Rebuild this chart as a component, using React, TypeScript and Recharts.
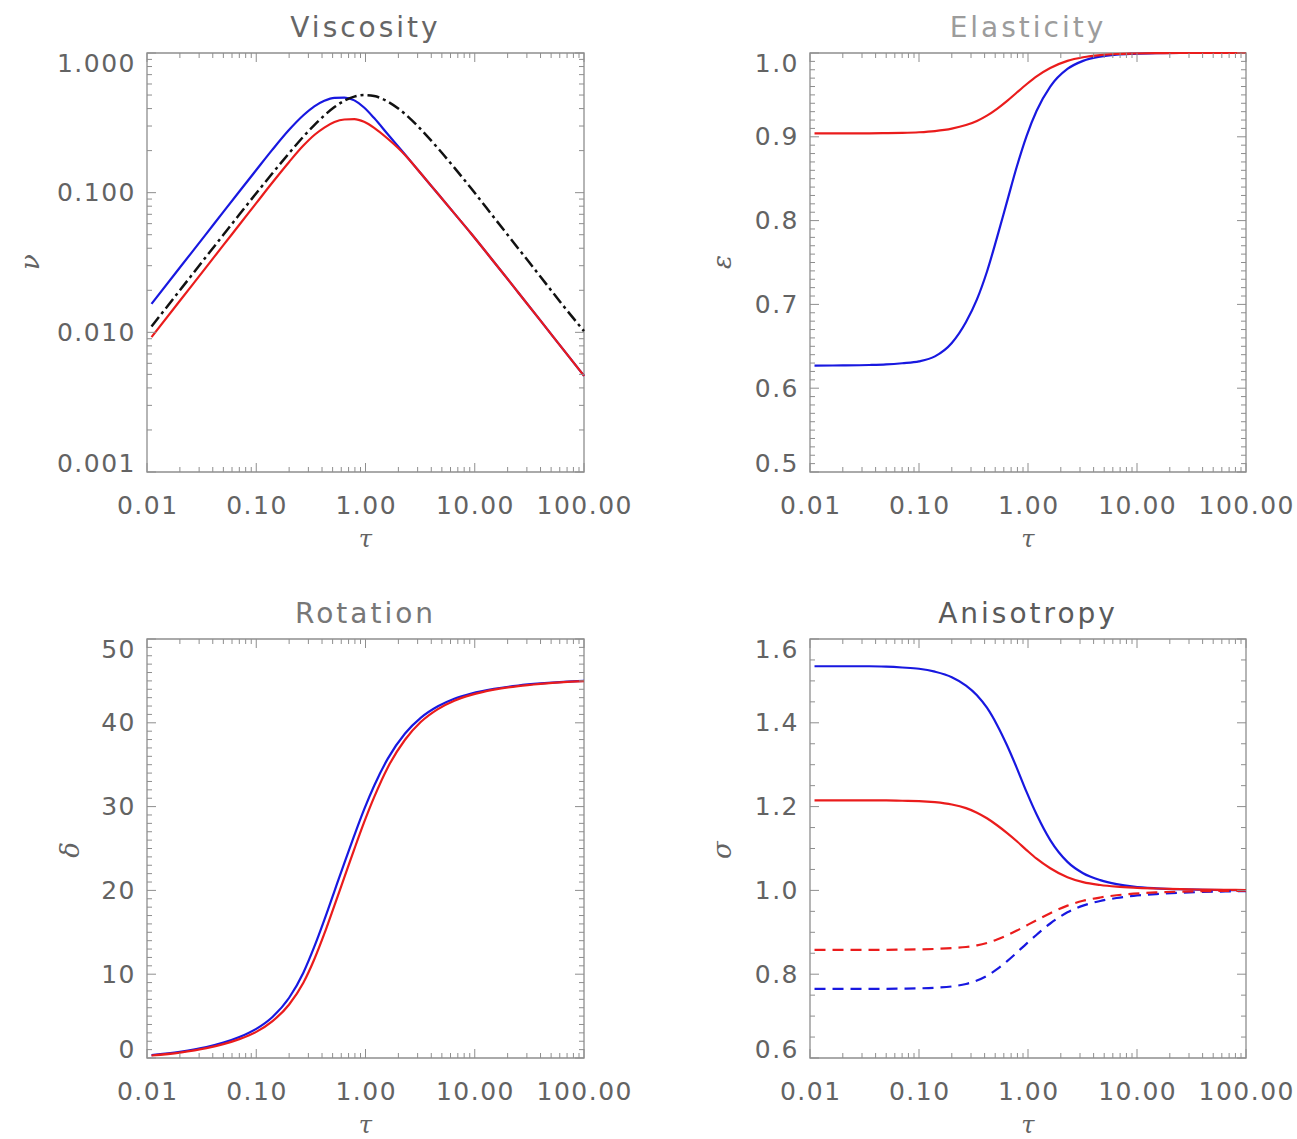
import { LineChart, Line, XAxis, YAxis, ReferenceArea } from 'recharts';

const PAGE_W = 1297;
const PAGE_H = 1139;

// shared tau grid, every curve is sampled on it
const TAU = [
  0.011, 0.02, 0.035, 0.05, 0.07, 0.1, 0.14, 0.2, 0.27, 0.34, 0.42, 0.52, 0.64, 0.79,
  0.97, 1.2, 1.6, 2.3, 3.2, 4.6, 6.5, 9.3, 15, 25, 40, 65, 100,
];

const X_TICKS = [0.01, 0.1, 1, 10, 100];
const X_LABELS = ['0.01', '0.10', '1.00', '10.00', '100.00'];

// Viscosity (log-log)
const VISC_BLUE = [
  0.016, 0.0291, 0.0509, 0.0728, 0.1019, 0.1452, 0.2023, 0.2818, 0.3581, 0.415, 0.455,
  0.4775, 0.479, 0.458, 0.407, 0.342, 0.2618, 0.1875, 0.1377, 0.0982, 0.0711, 0.0508,
  0.0319, 0.0193, 0.01213, 0.00748, 0.00488,
];
const VISC_RED = [
  0.00925, 0.01683, 0.02944, 0.04207, 0.05888, 0.08414, 0.1178, 0.166, 0.2173, 0.2588,
  0.2924, 0.3206, 0.3342, 0.3365, 0.3214, 0.2911, 0.2432, 0.1862, 0.1377, 0.0982, 0.0711,
  0.0508, 0.0319, 0.0193, 0.01213, 0.00748, 0.00488,
];
const VISC_BLACK = [
  0.011, 0.02, 0.035, 0.0499, 0.0697, 0.099, 0.137, 0.192, 0.252, 0.305, 0.357, 0.41, 0.455,
  0.487, 0.5, 0.492, 0.449, 0.366, 0.285, 0.208, 0.151, 0.107, 0.0664, 0.0399, 0.025, 0.0154,
  0.0102,
];
const VISC_Y_TICKS = [0.001, 0.01, 0.1, 1];
const VISC_Y_LABELS = ['0.001', '0.010', '0.100', '1.000'];

// Elasticity
const EL_BLUE = [
  0.627, 0.6272, 0.6277, 0.6284, 0.6298, 0.632, 0.638, 0.654, 0.679, 0.706, 0.739, 0.78,
  0.822, 0.8645, 0.9009, 0.931, 0.96, 0.981, 0.9906, 0.9957, 0.998, 0.999, 0.9997, 1.0, 1.0,
  1.0, 1.0,
];
const EL_RED = [
  0.904, 0.904, 0.9042, 0.9044, 0.9047, 0.9054, 0.9068, 0.9097, 0.914, 0.919, 0.9253, 0.9334,
  0.9426, 0.9529, 0.9627, 0.9721, 0.9821, 0.9906, 0.9949, 0.9975, 0.9988, 0.9994, 0.9998,
  1.0, 1.0, 1.0, 1.0,
];
const EL_Y_TICKS = [0.5, 0.6, 0.7, 0.8, 0.9, 1.0];
const EL_Y_LABELS = ['0.5', '0.6', '0.7', '0.8', '0.9', '1.0'];

// Rotation
const ROT_BLUE = [
  0.35, 0.74, 1.3, 1.83, 2.5, 3.48, 4.87, 7.19, 10.18, 13.28, 16.48, 19.92, 23.25, 26.56,
  29.63, 32.48, 35.73, 38.73, 40.59, 41.97, 42.87, 43.49, 44.05, 44.45, 44.7, 44.89, 45.0,
];
const ROT_RED = [
  0.3, 0.65, 1.17, 1.65, 2.25, 3.12, 4.37, 6.39, 8.98, 11.78, 14.83, 18.22, 21.55, 24.93,
  28.11, 31.13, 34.68, 37.98, 40.09, 41.64, 42.64, 43.33, 43.95, 44.38, 44.65, 44.86, 44.98,
];
const ROT_Y_TICKS = [0, 10, 20, 30, 40, 50];
const ROT_Y_LABELS = ['0', '10', '20', '30', '40', '50'];

// Anisotropy (solid and dashed pairs)
const ANI_BLUE = [
  1.535, 1.535, 1.535, 1.534, 1.532, 1.529, 1.522, 1.509, 1.489, 1.466, 1.436, 1.395, 1.347,
  1.292, 1.235, 1.181, 1.12, 1.068, 1.041, 1.0245, 1.015, 1.009, 1.005, 1.0027, 1.0015,
  1.0008, 1.0005,
];
const ANI_RED = [
  1.215, 1.215, 1.215, 1.2148, 1.214, 1.2132, 1.2105, 1.205, 1.1963, 1.1855, 1.1721, 1.1555,
  1.1373, 1.1172, 1.0963, 1.0757, 1.0529, 1.0313, 1.0196, 1.0129, 1.0091, 1.0066, 1.0045,
  1.0029, 1.0019, 1.0013, 1.0009,
];
const ANI_BLUE_DASH = [
  0.765, 0.765, 0.765, 0.7652, 0.7656, 0.7662, 0.7676, 0.7707, 0.7767, 0.7849, 0.7961, 0.8119,
  0.8305, 0.8515, 0.8731, 0.8942, 0.921, 0.9477, 0.9637, 0.9748, 0.9818, 0.9869, 0.9912,
  0.9943, 0.9962, 0.9974, 0.9983,
];
const ANI_RED_DASH = [
  0.858, 0.858, 0.858, 0.8582, 0.8587, 0.8593, 0.8603, 0.8622, 0.8649, 0.8688, 0.8745, 0.8827,
  0.8927, 0.9042, 0.9164, 0.929, 0.9457, 0.9637, 0.9752, 0.9831, 0.9884, 0.9921, 0.9951,
  0.9971, 0.9981, 0.9988, 0.9992,
];
const ANI_Y_TICKS = [0.6, 0.8, 1.0, 1.2, 1.4, 1.6];
const ANI_Y_LABELS = ['0.6', '0.8', '1.0', '1.2', '1.4', '1.6'];

const AXIS = '#8e8e8e';
const TEXT = '#636363';
const BLUE = '#1818e0';
const RED = '#ea1c1c';
const BLACK = '#111111';
const NUM_FONT = '"DejaVu Sans", sans-serif';
const GREEK_FONT = '"DejaVu Serif", serif';
const LABEL_SIZE = 25;
const LABEL_SPACING = 1.5;

type Box = { left: number; top: number; right: number; bottom: number };
type Series = { key: string; values: number[]; color: string; dash?: string; width?: number };

function logMinors(lo: number, hi: number) {
  const out: number[] = [];
  for (let d = lo; d < hi * 0.999; d *= 10) {
    for (let m = 2; m <= 9; m++) out.push(Number((d * m).toPrecision(6)));
  }
  return out;
}

function linMinors(lo: number, hi: number, step: number) {
  const n = Math.round((hi - lo) / step);
  const out: number[] = [];
  for (let i = 0; i <= n; i++) out.push(Number((lo + i * step).toFixed(6)));
  return out;
}

function majorIndex(v: number, majors: number[]) {
  return majors.findIndex((m) => Math.abs(v - m) <= Math.abs(m) * 1e-6 + 1e-9);
}

const X_ALL = [...X_TICKS, ...logMinors(0.01, 100)].sort((a, b) => a - b);

function Panel({
  box,
  yScale,
  yTicks,
  yLabels,
  yMinor,
  series,
}: {
  box: Box;
  yScale: 'log' | 'linear';
  yTicks: number[];
  yLabels: string[];
  yMinor: number[];
  series: Series[];
}) {
  const data = TAU.map((t, i) => {
    const row: Record<string, number> = { t };
    series.forEach((s) => {
      row[s.key] = s.values[i];
    });
    return row;
  });
  const yDomain: [number, number] = [yTicks[0], yTicks[yTicks.length - 1]];
  const yAll = Array.from(new Set([...yTicks, ...yMinor])).sort((a, b) => a - b);

  const xTick = (p: any) => {
    const v = p.payload.value;
    const idx = majorIndex(v, X_TICKS);
    const len = idx >= 0 ? 9 : 5;
    return (
      <g key={`xt-${v}`}>
        <line x1={p.x} x2={p.x} y1={box.bottom} y2={box.bottom - len} stroke={AXIS} />
        <line x1={p.x} x2={p.x} y1={box.top} y2={box.top + len} stroke={AXIS} />
        {idx >= 0 && (
          <text
            x={p.x + LABEL_SPACING / 2}
            y={box.bottom + 33}
            textAnchor="middle"
            dominantBaseline="central"
            fontFamily={NUM_FONT}
            fontSize={LABEL_SIZE}
            letterSpacing={LABEL_SPACING}
            fill={TEXT}
          >
            {X_LABELS[idx]}
          </text>
        )}
      </g>
    );
  };

  const yTick = (p: any) => {
    const v = p.payload.value;
    const idx = majorIndex(v, yTicks);
    const len = idx >= 0 ? 9 : 5;
    // end labels sit inside the frame
    let dy = 0;
    if (idx === yTicks.length - 1) dy = 10;
    if (idx === 0) dy = -9;
    return (
      <g key={`yt-${v}`}>
        <line x1={box.left} x2={box.left + len} y1={p.y} y2={p.y} stroke={AXIS} />
        <line x1={box.right} x2={box.right - len} y1={p.y} y2={p.y} stroke={AXIS} />
        {idx >= 0 && (
          <text
            x={box.left - 11}
            y={p.y + dy}
            textAnchor="end"
            dominantBaseline="central"
            fontFamily={NUM_FONT}
            fontSize={LABEL_SIZE}
            letterSpacing={LABEL_SPACING}
            fill={TEXT}
          >
            {yLabels[idx]}
          </text>
        )}
      </g>
    );
  };

  return (
    <div style={{ position: 'absolute', left: 0, top: 0 }}>
      <LineChart
        width={PAGE_W}
        height={PAGE_H}
        data={data}
        margin={{
          top: box.top,
          left: box.left - 1,
          right: PAGE_W - box.right,
          bottom: PAGE_H - box.bottom - 1,
        }}
      >
        <XAxis
          dataKey="t"
          type="number"
          scale="log"
          domain={[0.01, 100]}
          ticks={X_ALL}
          interval={0}
          height={1}
          axisLine={false}
          tickLine={false}
          tick={xTick}
        />
        <YAxis
          type="number"
          scale={yScale}
          domain={yDomain}
          ticks={yAll}
          interval={0}
          width={1}
          axisLine={false}
          tickLine={false}
          tick={yTick}
        />
        <ReferenceArea
          x1={0.01}
          x2={100}
          y1={yDomain[0]}
          y2={yDomain[1]}
          fill="none"
          stroke={AXIS}
          strokeWidth={1.3}
        />
        {series.map((s) => (
          <Line
            key={s.key}
            dataKey={s.key}
            type="monotone"
            stroke={s.color}
            strokeWidth={s.width ?? 2.2}
            strokeDasharray={s.dash}
            dot={false}
            activeDot={false}
            isAnimationActive={false}
          />
        ))}
      </LineChart>
    </div>
  );
}

const BOX_TL: Box = { left: 147, top: 53, right: 584, bottom: 472 };
const BOX_TR: Box = { left: 810, top: 53, right: 1246, bottom: 472 };
const BOX_BL: Box = { left: 147, top: 639, right: 584, bottom: 1058 };
const BOX_BR: Box = { left: 810, top: 639, right: 1246, bottom: 1058 };

const TITLES = [
  { text: 'Viscosity', box: BOX_TL, color: '#666666' },
  { text: 'Elasticity', box: BOX_TR, color: '#9c9c9c' },
  { text: 'Rotation', box: BOX_BL, color: '#777777' },
  { text: 'Anisotropy', box: BOX_BR, color: '#5a5a5a' },
];

const Y_SYMBOLS = [
  { text: 'ν', x: 30, y: 262 },
  { text: 'ε', x: 722, y: 262 },
  { text: 'δ', x: 70, y: 850 },
  { text: 'σ', x: 722, y: 850 },
];

export default function App() {
  return (
    <div
      style={{
        position: 'absolute',
        left: 0,
        top: 0,
        width: PAGE_W,
        height: PAGE_H,
        background: '#ffffff',
        overflow: 'hidden',
      }}
    >
      <Panel
        box={BOX_TL}
        yScale="log"
        yTicks={VISC_Y_TICKS}
        yLabels={VISC_Y_LABELS}
        yMinor={logMinors(0.001, 1)}
        series={[
          { key: 'blue', values: VISC_BLUE, color: BLUE },
          { key: 'red', values: VISC_RED, color: RED },
          { key: 'black', values: VISC_BLACK, color: BLACK, dash: '12 4 3 4', width: 2.5 },
        ]}
      />
      <Panel
        box={BOX_TR}
        yScale="linear"
        yTicks={EL_Y_TICKS}
        yLabels={EL_Y_LABELS}
        yMinor={linMinors(0.5, 1.0, 0.01)}
        series={[
          { key: 'blue', values: EL_BLUE, color: BLUE },
          { key: 'red', values: EL_RED, color: RED },
        ]}
      />
      <Panel
        box={BOX_BL}
        yScale="linear"
        yTicks={ROT_Y_TICKS}
        yLabels={ROT_Y_LABELS}
        yMinor={linMinors(0, 50, 1)}
        series={[
          { key: 'blue', values: ROT_BLUE, color: BLUE },
          { key: 'red', values: ROT_RED, color: RED },
        ]}
      />
      <Panel
        box={BOX_BR}
        yScale="linear"
        yTicks={ANI_Y_TICKS}
        yLabels={ANI_Y_LABELS}
        yMinor={linMinors(0.6, 1.6, 0.05)}
        series={[
          { key: 'blue', values: ANI_BLUE, color: BLUE },
          { key: 'red', values: ANI_RED, color: RED },
          { key: 'blueDash', values: ANI_BLUE_DASH, color: BLUE, dash: '11 7' },
          { key: 'redDash', values: ANI_RED_DASH, color: RED, dash: '11 7' },
        ]}
      />
      <svg
        width={PAGE_W}
        height={PAGE_H}
        style={{ position: 'absolute', left: 0, top: 0, pointerEvents: 'none' }}
      >
        {TITLES.map((t) => (
          <text
            key={t.text}
            x={(t.box.left + t.box.right) / 2}
            y={t.box.top - 16}
            textAnchor="middle"
            fontFamily={NUM_FONT}
            fontSize={28}
            letterSpacing={3}
            fill={t.color}
          >
            {t.text}
          </text>
        ))}
        {[BOX_TL, BOX_TR, BOX_BL, BOX_BR].map((b, i) => (
          <text
            key={`tau-${i}`}
            x={(b.left + b.right) / 2}
            y={b.bottom + 67}
            textAnchor="middle"
            dominantBaseline="central"
            fontFamily={GREEK_FONT}
            fontStyle="italic"
            fontSize={24}
            fill={TEXT}
          >
            τ
          </text>
        ))}
        {Y_SYMBOLS.map((s) => (
          <text
            key={s.text}
            x={s.x}
            y={s.y}
            transform={`rotate(-90 ${s.x} ${s.y})`}
            textAnchor="middle"
            dominantBaseline="central"
            fontFamily={GREEK_FONT}
            fontStyle="italic"
            fontSize={26}
            fill={TEXT}
          >
            {s.text}
          </text>
        ))}
      </svg>
    </div>
  );
}
